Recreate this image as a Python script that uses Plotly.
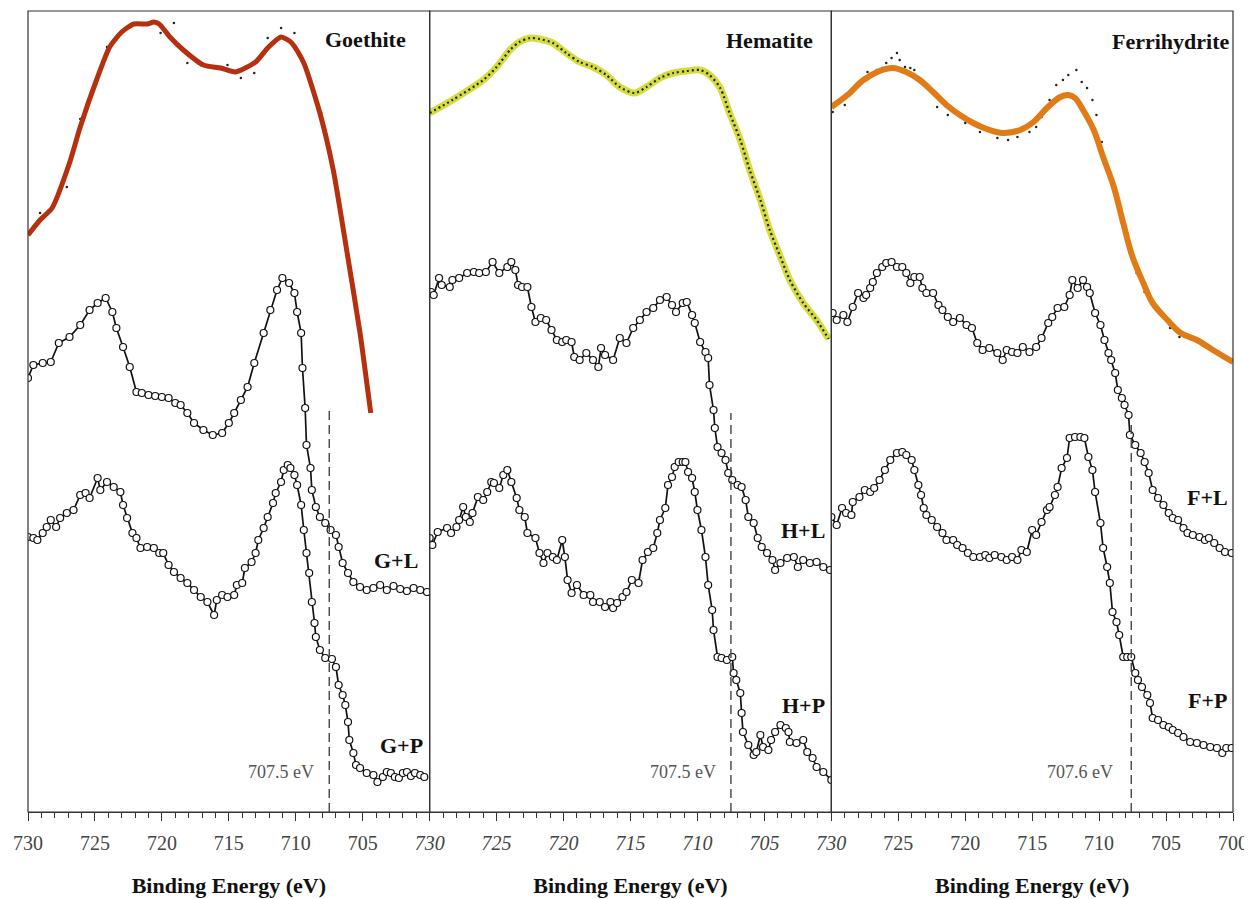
import plotly.graph_objects as go

# ---------------- DATA (binding energy in eV, intensity in arbitrary units) ----------------
# Goethite reference spectrum (fit) and raw points
goethite_fit_e = [730.0, 729.1, 728.2, 726.9, 726.1, 724.8, 723.9, 723.0, 722.1, 721.1, 720.6, 720.2,
                  719.4, 718.4, 716.9, 715.6, 714.5, 713.0, 712.1, 711.1, 710.3, 709.4, 708.2, 707.2,
                  706.2, 705.2, 704.4]
goethite_fit_i = [577, 592, 604, 649, 685, 735, 765, 780, 788, 788, 790, 788,
                  775, 762, 747, 744, 740, 750, 764, 775, 769, 749, 699, 642,
                  562, 479, 399]
goethite_raw_e = [729.1, 728.2, 727.1, 726.1, 724.1, 720.1, 719.1, 718.1, 716.1, 715.1, 714.1, 713.1,
                  712.1, 711.1, 710.1, 708.1]
goethite_raw_i = [599, 604, 625, 693, 765, 779, 789, 749, 744, 747, 734, 739,
                  774, 784, 779, 699]

# Hematite reference spectrum
hematite_e = [730.0, 728.3, 726.0, 725.0, 724.0, 723.3, 722.5, 721.8, 720.8, 719.8, 718.8, 717.8,
              716.8, 715.8, 714.7, 713.8, 712.8, 711.8, 710.8, 709.8, 709.1, 708.3, 707.6, 706.8,
              706.1, 705.3, 704.6, 703.8, 703.1, 702.1, 701.1, 700.2]
hematite_i = [699, 712, 732, 745, 762, 770, 774, 773, 769, 759, 750, 745,
              737, 725, 719, 725, 734, 739, 741, 742, 737, 724, 699, 672,
              642, 612, 582, 555, 532, 509, 492, 473]

# Ferrihydrite reference spectrum (fit) and raw points
ferri_fit_e = [730.0, 728.8, 727.6, 726.4, 725.4, 724.4, 723.4, 722.4, 721.4, 720.4, 719.4, 718.4,
               717.2, 715.9, 714.9, 713.9, 712.9, 712.3, 711.8, 711.2, 710.4, 709.7, 708.9, 708.2,
               707.5, 706.7, 706.0, 704.9, 703.9, 702.7, 701.5, 700.0]
ferri_fit_i = [705, 717, 732, 741, 744, 740, 732, 720, 707, 697, 689, 683,
               679, 682, 690, 704, 715, 717, 714, 702, 682, 655, 625, 589,
               555, 529, 509, 492, 479, 472, 462, 450]
ferri_raw_e = [729.9, 729.0, 727.3, 726.6, 726.2, 725.9, 725.5, 725.1, 724.9, 724.5, 724.1, 723.8,
               723.4, 722.6, 722.1, 721.3, 720.0, 719.3, 718.9, 717.6, 716.8, 716.1, 715.2, 714.7,
               714.3, 713.7, 713.2, 712.7, 712.3, 711.7, 711.3, 710.9, 710.5, 710.2, 709.8, 708.3,
               708.1, 707.7, 707.2, 706.6, 706.0, 705.2, 704.7, 704.0, 702.3]
ferri_raw_i = [700, 707, 740, 742, 744, 749, 754, 759, 752, 745, 744, 742,
               734, 724, 705, 697, 689, 690, 680, 674, 672, 675, 680, 685,
               695, 712, 727, 732, 737, 742, 730, 724, 712, 697, 670, 589,
               579, 559, 539, 520, 509, 495, 484, 475, 470]

# Goethite + L
gl_e = [730.0, 729.6, 728.9, 728.3, 727.7, 726.9, 726.1, 725.4, 724.8, 724.2, 723.7, 723.4,
        722.9, 722.4, 721.9, 721.5, 721.0, 720.5, 720.0, 719.5, 719.0, 718.6, 718.1, 717.6,
        716.9, 716.2, 715.5, 715.0, 714.6, 714.1, 713.6, 713.1, 712.4, 711.9, 711.4, 711.0,
        710.5, 710.1, 709.9, 709.6, 709.5, 709.3, 709.2, 708.9, 708.8, 708.5, 708.2, 707.8,
        707.4, 707.0, 706.8, 706.5, 706.1, 705.7, 705.2, 704.7, 704.2, 703.7, 703.2, 702.7,
        702.2, 701.7, 701.2, 700.7, 700.2]
gl_i = [434, 447, 449, 450, 469, 475, 487, 502, 509, 514, 500, 484,
        465, 445, 420, 419, 417, 416, 415, 414, 409, 407, 399, 389,
        382, 377, 379, 389, 399, 412, 425, 449, 479, 502, 522, 534,
        529, 519, 500, 479, 444, 404, 367, 344, 322, 305, 295, 289,
        282, 277, 265, 249, 239, 230, 225, 222, 224, 227, 222, 226,
        223, 221, 224, 222, 220]

# Goethite + P
gp_e = [730.0, 729.6, 729.3, 728.9, 728.6, 728.3, 727.9, 727.6, 727.1, 726.6, 726.1, 725.7,
        725.4, 724.8, 724.6, 724.1, 723.6, 723.1, 722.9, 722.6, 722.2, 721.9, 721.6, 721.1,
        720.6, 720.2, 719.9, 719.5, 719.1, 718.6, 718.1, 717.6, 717.1, 716.6, 716.1, 715.9,
        715.5, 715.1, 714.6, 714.4, 714.0, 713.8, 713.3, 713.0, 712.8, 712.4, 712.1, 711.7,
        711.5, 711.1, 710.9, 710.6, 710.4, 710.1, 709.9, 709.6, 709.4, 709.2, 709.0, 708.8,
        708.6, 708.5, 708.2, 707.8, 707.3, 707.0, 706.8, 706.5, 706.3, 706.1, 706.0, 705.7,
        705.5, 705.2, 704.7, 704.2, 703.9, 703.5, 703.2, 702.9, 702.6, 702.3, 702.0, 701.7,
        701.4, 701.1, 700.7, 700.4]
gp_i = [275, 274, 272, 279, 285, 292, 285, 294, 299, 302, 317, 319,
        314, 334, 322, 330, 325, 320, 307, 294, 279, 274, 264, 265,
        264, 259, 259, 247, 240, 234, 229, 222, 215, 210, 197, 212,
        217, 215, 217, 227, 229, 244, 250, 259, 272, 284, 295, 309,
        319, 330, 342, 347, 344, 337, 327, 307, 282, 259, 239, 210,
        189, 175, 162, 154, 153, 145, 127, 117, 107, 90, 72, 59,
        47, 44, 39, 37, 30, 35, 40, 39, 35, 34, 39, 40,
        36, 39, 37, 35]

# Hematite + L
hl_e = [729.9, 729.7, 729.3, 729.1, 728.5, 728.3, 727.8, 727.2, 726.7, 726.3, 725.8, 725.3,
        724.8, 724.2, 723.9, 723.6, 723.4, 723.1, 722.7, 722.4, 722.1, 721.7, 721.3, 720.9,
        720.5, 720.1, 719.8, 719.4, 719.2, 718.8, 718.3, 717.8, 717.4, 717.2, 716.9, 716.3,
        715.8, 715.3, 714.8, 714.3, 713.8, 713.3, 712.8, 712.3, 711.9, 711.6, 711.1, 710.8,
        710.4, 710.2, 709.8, 709.4, 709.2, 709.1, 708.8, 708.7, 708.5, 708.2, 707.9, 707.7,
        707.4, 707.0, 706.7, 706.4, 706.2, 705.8, 705.5, 705.2, 704.8, 704.4, 704.2, 703.8,
        703.3, 702.8, 702.5, 702.1, 701.6, 701.1, 700.6, 700.1]
hl_i = [520, 517, 534, 527, 525, 532, 534, 539, 540, 539, 540, 550,
        539, 545, 550, 542, 527, 525, 525, 505, 490, 494, 492, 482,
        472, 470, 472, 470, 455, 452, 459, 452, 445, 464, 457, 452,
        474, 469, 484, 492, 500, 504, 512, 515, 507, 500, 509, 510,
        497, 489, 470, 460, 454, 427, 402, 384, 365, 359, 352, 339,
        332, 327, 325, 312, 295, 289, 274, 265, 259, 252, 242, 249,
        254, 255, 245, 252, 249, 250, 245, 242]

# Hematite + P
hp_e = [730.0, 729.8, 729.4, 728.7, 728.4, 728.0, 727.8, 727.5, 727.3, 727.0, 726.8, 726.4,
        726.0, 725.7, 725.4, 725.2, 724.8, 724.5, 724.2, 723.9, 723.5, 723.3, 722.9, 722.7,
        722.1, 721.8, 721.5, 721.2, 720.8, 720.5, 720.1, 719.9, 719.7, 719.4, 719.0, 718.5,
        718.0, 717.8, 717.3, 716.9, 716.5, 716.3, 716.0, 715.6, 715.3, 714.9, 714.4, 714.1,
        713.7, 713.3, 713.0, 712.8, 712.4, 712.2, 711.9, 711.7, 711.4, 711.1, 710.9, 710.7,
        710.4, 710.2, 710.0, 709.7, 709.4, 709.2, 708.9, 708.8, 708.5, 708.2, 707.8, 707.4,
        707.3, 707.1, 706.8, 706.7, 706.6, 706.2, 705.8, 705.6, 705.3, 705.1, 704.7, 704.5,
        704.2, 703.8, 703.4, 703.2, 703.1, 702.6, 702.1, 701.8, 701.4, 701.1, 700.6, 700.0]
hp_i = [274, 267, 280, 284, 279, 285, 292, 305, 295, 290, 299, 315,
        312, 320, 330, 329, 324, 337, 342, 330, 314, 302, 295, 279,
        274, 259, 249, 259, 255, 252, 272, 255, 232, 219, 227, 217,
        217, 210, 210, 205, 210, 204, 209, 215, 220, 232, 229, 252,
        260, 264, 279, 292, 304, 327, 335, 345, 350, 350, 350, 340,
        334, 320, 302, 282, 255, 227, 202, 182, 155, 154, 152, 155,
        139, 132, 119, 99, 80, 67, 57, 60, 77, 65, 62, 72,
        80, 87, 84, 80, 70, 69, 72, 60, 54, 45, 40, 32]

# Ferrihydrite + L
fl_e = [729.9, 729.6, 729.1, 728.8, 728.4, 728.0, 727.6, 727.4, 727.1, 726.9, 726.6, 726.2,
        725.9, 725.5, 725.1, 724.7, 724.4, 724.1, 723.8, 723.4, 723.2, 722.9, 722.4, 722.0,
        721.7, 721.3, 720.9, 720.4, 719.9, 719.5, 719.1, 718.7, 718.2, 717.6, 717.2, 716.9,
        716.5, 716.1, 715.7, 715.2, 714.7, 714.3, 713.8, 713.5, 713.1, 712.6, 712.2, 712.0,
        711.6, 711.2, 710.9, 710.7, 710.3, 709.9, 709.6, 709.3, 709.1, 708.8, 708.6, 708.3,
        708.1, 707.8, 707.7, 707.3, 706.9, 706.6, 706.3, 706.0, 705.6, 705.2, 704.8, 704.5,
        704.1, 703.7, 703.4, 703.0, 702.5, 702.1, 701.8, 701.4, 701.0, 700.6, 700.1]
fl_i = [499, 492, 497, 490, 505, 519, 514, 517, 524, 530, 539, 545,
        549, 550, 545, 545, 539, 529, 535, 535, 524, 519, 519, 507,
        502, 495, 490, 494, 487, 484, 469, 462, 464, 459, 452, 462,
        460, 459, 465, 460, 465, 474, 489, 495, 504, 505, 517, 532,
        524, 532, 525, 519, 499, 487, 472, 459, 452, 439, 422, 414,
        407, 397, 377, 367, 359, 350, 339, 322, 314, 307, 299, 294,
        292, 284, 279, 277, 275, 272, 274, 269, 264, 260, 259]

# Ferrihydrite + P
fp_e = [730.0, 729.6, 729.2, 728.9, 728.5, 728.4, 727.9, 727.5, 727.1, 726.8, 726.4, 726.0,
        725.6, 725.1, 724.7, 724.4, 724.0, 723.8, 723.5, 723.3, 723.1, 722.9, 722.5, 722.1,
        721.7, 721.4, 720.9, 720.6, 720.2, 719.8, 719.4, 718.9, 718.5, 718.2, 717.8, 717.3,
        716.9, 716.5, 716.1, 715.8, 715.4, 715.0, 714.7, 714.3, 713.9, 713.7, 713.3, 713.1,
        712.8, 712.4, 712.2, 711.8, 711.4, 711.1, 710.8, 710.5, 710.3, 709.9, 709.7, 709.4,
        709.2, 709.0, 708.7, 708.5, 708.2, 707.9, 707.6, 707.3, 707.1, 706.8, 706.4, 706.2,
        706.0, 705.6, 705.2, 704.8, 704.5, 704.1, 703.7, 703.2, 702.7, 702.2, 701.7, 701.2,
        700.8, 700.5, 700.1]
fp_i = [295, 287, 304, 299, 297, 310, 315, 322, 320, 324, 332, 342,
        352, 359, 360, 357, 352, 342, 327, 317, 304, 297, 292, 285,
        279, 272, 272, 267, 264, 259, 255, 255, 257, 254, 257, 255,
        252, 255, 252, 262, 260, 282, 277, 290, 302, 305, 317, 325,
        344, 354, 374, 375, 375, 374, 355, 342, 320, 289, 264, 245,
        229, 200, 190, 177, 155, 155, 155, 139, 132, 125, 117, 109,
        94, 92, 87, 85, 82, 79, 75, 70, 69, 67, 65, 64,
        59, 64, 64]

# Edge markers (eV) and panel labels
edge_energy = [707.5, 707.5, 707.6]
edge_top = [402, 399, 392]
panel_names = ["Goethite", "Hematite", "Ferrihydrite"]
series_names = [["G+L", "G+P"], ["H+L", "H+P"], ["F+L", "F+P"]]
tick_vals_1 = [730, 725, 720, 715, 710, 705]
tick_text_1 = ["730", "725", "720", "715", "710", "705"]
tick_vals_2 = [730, 725, 720, 715, 710, 705, 700]
tick_text_2 = ["730", "725", "720", "715", "710", "705", "730"]
tick_vals_3 = [725, 720, 715, 710, 705, 700]
tick_text_3 = ["725", "720", "715", "710", "705", "700"]

# ---------------- FIGURE ----------------
SERIF = "Liberation Serif, Times New Roman, serif"
fig = go.Figure()

def spectrum(e, i, xa):
    fig.add_trace(go.Scatter(
        x=e, y=i, xaxis=xa, yaxis="y", mode="lines+markers",
        line=dict(color="#111111", width=1.7),
        marker=dict(symbol="circle", size=7, color="white",
                    line=dict(color="#111111", width=1.2)),
        showlegend=False, hoverinfo="x+y"))

# Panel 1: Goethite
fig.add_trace(go.Scatter(x=goethite_raw_e, y=goethite_raw_i, xaxis="x", yaxis="y", mode="markers",
                         marker=dict(size=2.5, color="#222222"), showlegend=False))
fig.add_trace(go.Scatter(x=goethite_fit_e, y=goethite_fit_i, xaxis="x", yaxis="y", mode="lines",
                         line=dict(color="#b5300f", width=5, shape="spline", smoothing=0.6),
                         showlegend=False))
spectrum(gl_e, gl_i, "x")
spectrum(gp_e, gp_i, "x")

# Panel 2: Hematite
fig.add_trace(go.Scatter(x=hematite_e, y=hematite_i, xaxis="x2", yaxis="y", mode="lines",
                         line=dict(color="#d5dc3e", width=7, shape="spline", smoothing=0.8),
                         showlegend=False))
fig.add_trace(go.Scatter(x=hematite_e, y=hematite_i, xaxis="x2", yaxis="y", mode="lines",
                         line=dict(color="#222222", width=2.2, dash="2px,3px", shape="spline", smoothing=0.8),
                         showlegend=False))
spectrum(hl_e, hl_i, "x2")
spectrum(hp_e, hp_i, "x2")

# Panel 3: Ferrihydrite
fig.add_trace(go.Scatter(x=ferri_raw_e, y=ferri_raw_i, xaxis="x3", yaxis="y", mode="markers",
                         marker=dict(size=2.5, color="#222222"), showlegend=False))
fig.add_trace(go.Scatter(x=ferri_fit_e, y=ferri_fit_i, xaxis="x3", yaxis="y", mode="lines",
                         line=dict(color="#e07b16", width=6, shape="spline", smoothing=1.0),
                         showlegend=False))
spectrum(fl_e, fl_i, "x3")
spectrum(fp_e, fp_i, "x3")

axes = ["x", "x2", "x3"]
# dashed edge lines
for k, xa in enumerate(axes):
    fig.add_trace(go.Scatter(x=[edge_energy[k], edge_energy[k]], y=[0, edge_top[k]],
                             xaxis=xa, yaxis="y", mode="lines",
                             line=dict(color="#444444", width=1.4, dash="9px,5px"),
                             showlegend=False, hoverinfo="skip"))

# axes
domains = [[0.0, 1/3], [1/3, 2/3], [2/3, 1.0]]
ticks = [(tick_vals_1, tick_text_1, "normal"), (tick_vals_2, tick_text_2, "italic"),
         (tick_vals_3, tick_text_3, "normal")]
layout_axes = {}
for k, xa in enumerate(axes):
    name = "xaxis" if k == 0 else "xaxis%d" % (k + 1)
    tv, tt, st = ticks[k]
    layout_axes[name] = dict(
        domain=domains[k], range=[730, 700], anchor="y", automargin=False,
        showline=True, linecolor="#333333", linewidth=1.2,
        showgrid=False, zeroline=False,
        ticks="outside", ticklen=8, tickwidth=1.2, tickcolor="#333333",
        tickvals=tv, ticktext=tt, ticklabelstandoff=5,
        tickfont=dict(family=SERIF, size=20, color="#444444", style=st),
        minor=dict(dtick=1, tick0=700, ticks="outside", ticklen=5, tickwidth=1.1, tickcolor="#333333",
                   showgrid=False),
        title=dict(text="<b>Binding Energy (eV)</b>", standoff=24,
                   font=dict(family=SERIF, size=22, color="#111111")),
    )
fig.update_layout(**layout_axes)
fig.update_layout(yaxis=dict(range=[0, 801], domain=[0, 1], anchor="x", visible=False,
                             automargin=False, fixedrange=True))

# panel frames
shapes = []
for k, xa in enumerate(axes):
    shapes.append(dict(type="rect", xref="%s domain" % xa, yref="y domain", x0=0, x1=1, y0=0, y1=1,
                       line=dict(color="#333333", width=1.2), layer="above"))
fig.update_layout(shapes=shapes)

# annotations
ann = []
title_pos = [(701.6, 773), (701.2, 772), (700.1, 771)]
for k, xa in enumerate(axes):
    ann.append(dict(x=title_pos[k][0], y=title_pos[k][1], xref=xa, yref="y", text="<b>%s</b>" % panel_names[k],
                    showarrow=False, xanchor="right", yanchor="middle",
                    font=dict(family=SERIF, size=22, color="#111111")))
label_pos = [[(702.5, 252), (702.1, 67)], [(702.1, 282), (702.1, 107)], [(701.9, 315), (701.9, 112)]]
for k, xa in enumerate(axes):
    for j in range(2):
        ann.append(dict(x=label_pos[k][j][0], y=label_pos[k][j][1], xref=xa, yref="y",
                        text="<b>%s</b>" % series_names[k][j], showarrow=False,
                        font=dict(family=SERIF, size=22, color="#111111")))
edge_lab_x = [711.1, 711.1, 711.4]
for k, xa in enumerate(axes):
    ann.append(dict(x=edge_lab_x[k], y=40, xref=xa, yref="y", text="%.1f eV" % edge_energy[k],
                    showarrow=False, font=dict(family=SERIF, size=18, color="#555555")))
fig.update_layout(annotations=ann)

# the page places the figure 8 px from the top-left corner, so size and margins allow for that
fig.update_layout(width=1244, height=891, margin=dict(l=20, r=19, t=3, b=87, autoexpand=False),
                  paper_bgcolor="white", plot_bgcolor="white", showlegend=False)

fig.write_html("out.html")
